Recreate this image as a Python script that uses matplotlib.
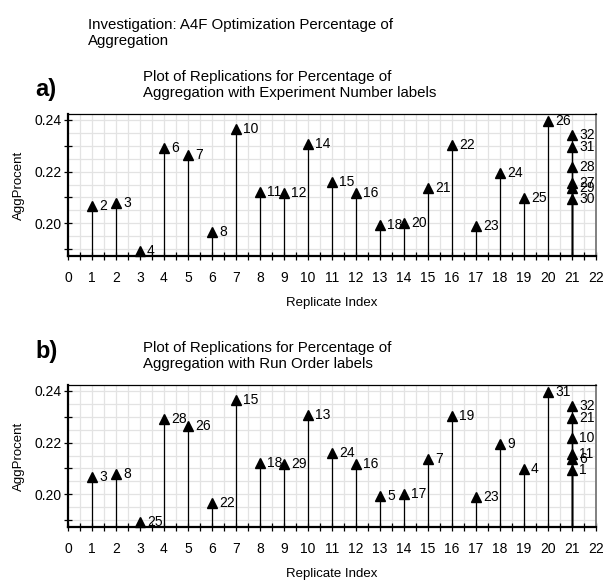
import matplotlib
matplotlib.use("Agg")
import matplotlib.pyplot as plt
from matplotlib.ticker import MultipleLocator, FormatStrFormatter

plt.rcParams["font.family"] = ["Liberation Sans", "DejaVu Sans"]

# Replicate index and aggregation percentage for each experiment
replicate_index = [1, 2, 3, 4, 5, 6, 7, 8, 9, 10, 11, 12, 13, 14, 15, 16,
                   17, 18, 19, 20, 21, 21, 21, 21, 21, 21]
agg_procent = [0.2067, 0.2077, 0.1893, 0.2292, 0.2266, 0.1968, 0.2366, 0.2122,
               0.2116, 0.2306, 0.2160, 0.2116, 0.1992, 0.2003, 0.2135, 0.2302,
               0.1988, 0.2194, 0.2097, 0.2396, 0.2342, 0.2294, 0.2219, 0.2155,
               0.2135, 0.2094]
experiment_labels = ["2", "3", "4", "6", "7", "8", "10", "11", "12", "14", "15",
                     "16", "18", "20", "21", "22", "23", "24", "25", "26", "32",
                     "31", "28", "27", "29", "30"]
run_order_labels = ["3", "8", "25", "28", "26", "22", "15", "18", "29", "13", "24",
                    "16", "5", "17", "7", "19", "23", "9", "4", "31", "32",
                    "21", "10", "11", "6", "1"]

x_ticks = list(range(0, 23))
y_ticks = [0.20, 0.22, 0.24]

W, H = 604, 580
fig = plt.figure(figsize=(W / 100, H / 100), dpi=100)


def fx(px):
    return px / W


def fy(py):
    return 1 - py / H


YMIN, YMAX = 0.18734, 0.24232


def draw_panel(top_px, labels):
    left, right, bottom = 68, 596, top_px + 142
    ax = fig.add_axes([fx(left), fy(bottom), (right - left) / W, 142 / H])
    ax.set_xlim(0, 22)
    ax.set_ylim(YMIN, YMAX)

    ax.xaxis.set_major_locator(MultipleLocator(1))
    ax.xaxis.set_minor_locator(MultipleLocator(0.5))
    ax.yaxis.set_major_locator(MultipleLocator(0.02))
    ax.yaxis.set_minor_locator(MultipleLocator(0.01))
    ax.yaxis.set_major_formatter(FormatStrFormatter("%.2f"))
    ax.set_xticks(x_ticks)
    ax.set_yticks(y_ticks)

    # fine background grid
    for gx in [i * 0.5 for i in range(1, 44)]:
        ax.axvline(gx, color="#e3e3e3", lw=0.9, zorder=0)
    g = 0.19
    while g < YMAX:
        ax.axhline(g, color="#e3e3e3", lw=0.9, zorder=0)
        g += 0.005

    ax.tick_params(which="both", direction="inout", length=5.5, width=0.9,
                   color="black", labelsize=10)
    ax.tick_params(axis="x", which="major", pad=8)
    ax.tick_params(axis="y", which="major", pad=1.5)

    for side in ("left", "bottom"):
        ax.spines[side].set_linewidth(1.6)
    ax.spines["top"].set_linewidth(0.9)
    ax.spines["right"].set_linewidth(1.4)
    ax.spines["right"].set_color("#808080")

    ax.vlines(replicate_index, YMIN, agg_procent, color="black", lw=0.9, zorder=2)
    ax.plot(replicate_index, agg_procent, linestyle="none", marker="^",
            markersize=7, color="black", zorder=3, clip_on=False)
    for xi, yi, lab in zip(replicate_index, agg_procent, labels):
        ax.annotate(lab, (xi, yi), xytext=(5, 0), textcoords="offset points",
                    va="center", ha="left", fontsize=10, zorder=4)

    ax.set_xlabel("Replicate Index", fontsize=9.5, labelpad=9)
    ax.set_ylabel("AggProcent", fontsize=9.5, labelpad=7)
    return ax


# multi-line texts are anchored on the baseline of their last line
fig.text(fx(88), fy(45.5), "Investigation: A4F Optimization Percentage of\nAggregation",
         fontsize=10.8, va="baseline", ha="left")

draw_panel(114, experiment_labels)
fig.text(fx(35), fy(96), "a)", fontsize=17, fontweight="bold", va="baseline", ha="left")
fig.text(fx(143), fy(97),
         "Plot of Replications for Percentage of\nAggregation with Experiment Number labels",
         fontsize=10.8, va="baseline", ha="left")

draw_panel(385, run_order_labels)
fig.text(fx(35), fy(358), "b)", fontsize=17, fontweight="bold", va="baseline", ha="left")
fig.text(fx(143), fy(368),
         "Plot of Replications for Percentage of\nAggregation with Run Order labels",
         fontsize=10.8, va="baseline", ha="left")

fig.savefig("out.png", dpi=100)
